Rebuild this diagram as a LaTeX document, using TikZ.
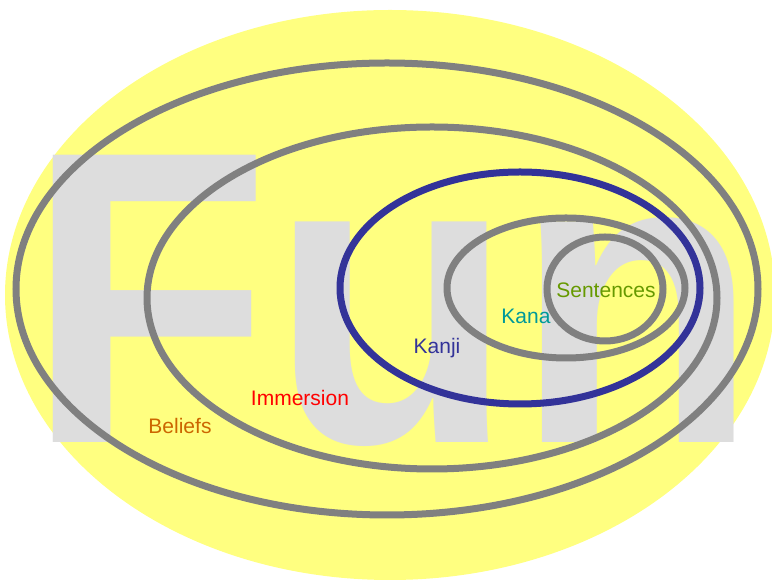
\documentclass[tikz,border=0pt]{standalone}
\usepackage{fontspec}
\setmainfont{Liberation Sans}
\definecolor{bgyellow}{HTML}{FFFF80}
\definecolor{ringgray}{HTML}{808080}
\definecolor{kanjiblue}{HTML}{333399}
\definecolor{fungray}{HTML}{DDDDDD}
\definecolor{sentgreen}{HTML}{669900}
\definecolor{kanateal}{HTML}{009999}
\definecolor{beliefsorange}{HTML}{CC6600}
\tikzset{
  ring/.style={draw=ringgray, line width=7pt},
  lbl/.style={font=\fontsize{21}{21}\selectfont, inner sep=0pt}
}
\begin{document}
\begin{tikzpicture}[x=1pt,y=1pt]
\useasboundingbox (0,0) rectangle (772,583);
\fill[bgyellow] (390,288) ellipse [x radius=385, y radius=285];
\node[anchor=base west, inner sep=0pt, text=fungray, yscale=1.044, transform shape,
      font=\fontsize{400}{400}\selectfont\bfseries] (fun) at (26,140) {Fun};
\draw[ring] (387,294) ellipse [x radius=371, y radius=226];
\draw[ring] (432,285) ellipse [x radius=285, y radius=171];
\draw[draw=kanjiblue, line width=7pt] (520,295) ellipse [x radius=180, y radius=116];
\draw[ring] (566,295) ellipse [x radius=119, y radius=70];
\draw[ring] (605,294) ellipse [x radius=58, y radius=52];
\node[lbl, text=sentgreen] (sent) at (606,293) {Sentences};
\node[lbl, text=kanateal] (kana) at (526,267) {Kana};
\node[lbl, text=kanjiblue] (kanji) at (437,235) {Kanji};
\node[lbl, text=red] (imm) at (300,185) {Immersion};
\node[lbl, text=beliefsorange] (bel) at (180,157) {Beliefs};
\end{tikzpicture}
\end{document}
